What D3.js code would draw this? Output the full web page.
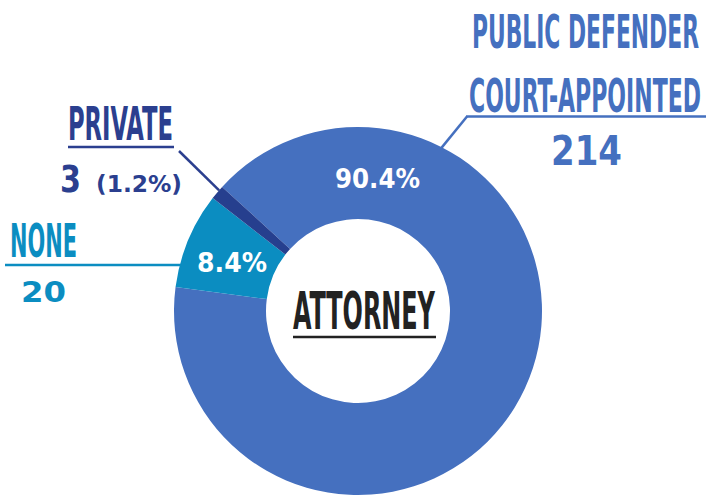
<!DOCTYPE html>
<html><head><meta charset="utf-8">
<script src="https://cdn.jsdelivr.net/npm/d3@7"></script>
<style>html,body{margin:0;padding:0;background:#fff;}svg{display:block;}</style>
</head><body>
<script>
const categories = ["PUBLIC DEFENDER COURT-APPOINTED", "NONE", "PRIVATE"];
const values = [214, 20, 3];
const pctLabels = ["90.4%", "8.4%", "1.2%"];
const colors = ["#4570bf", "#0b8dc1", "#263f8e"];
const title = "ATTORNEY";

const W = 707, H = 496;
const cx = 358, cy = 311, R = 184, r = 92;
const svg = d3.select("body").append("svg").attr("width", W).attr("height", H);
const g = svg.append("g").attr("transform", `translate(${cx},${cy})`);

const deg = Math.PI / 180;
const pie = d3.pie().sort(null).value(d => d).startAngle(-47.6 * deg).endAngle(-47.6 * deg + 2 * Math.PI);
const arcs = pie(values);
const arc = d3.arc().innerRadius(r).outerRadius(R);

g.selectAll("path.slice").data(arcs).enter().append("path")
  .attr("class", "slice").attr("d", arc).attr("fill", (d, i) => colors[i]);

const pt = (a, rad) => [cx + rad * Math.sin(a), cy - rad * Math.cos(a)];
const numFont = "'DejaVu Sans', sans-serif";
const condFont = "'Liberation Sans Narrow', 'DejaVu Sans Condensed', 'Liberation Sans', sans-serif";

// text fitted to a target width by horizontal scaling
function txt(s, x, y, size, len, fill, font, weight) {
  const t = svg.append("text").attr("x", 0).attr("y", 0).text(s)
    .attr("font-family", font).attr("font-weight", weight || "bold").attr("font-size", size)
    .attr("fill", fill);
  const nat = t.node().getComputedTextLength();
  const sx = nat > 0 ? len / nat : 1;
  t.attr("transform", `translate(${x},${y}) scale(${sx},1)`);
  return t;
}
function line(x1, y1, x2, y2, c, w) {
  svg.append("line").attr("x1", x1).attr("y1", y1).attr("x2", x2).attr("y2", y2)
    .attr("stroke", c).attr("stroke-width", w);
}

// in-slice percentage labels
txt(pctLabels[0], 335, 188, 27, 85, "#fff", numFont);
txt(pctLabels[1], 197, 272, 27, 70, "#fff", numFont);

// center title
txt(title, 293, 329, 52, 142, "#222", condFont);
line(293, 337, 436, 337, "#222", 2.5);

// PUBLIC DEFENDER label
const pubColor = "#4570bf";
txt("PUBLIC DEFENDER", 472, 48, 46, 227, pubColor, condFont);
txt("COURT-APPOINTED", 469, 112, 46, 232, pubColor, condFont);
line(466, 116.5, 706, 116.5, pubColor, 2.5);
const pEnd = pt(27 * deg, R - 2);
line(467, 116.5, pEnd[0], pEnd[1], pubColor, 2.5);
txt(String(values[0]), 551, 165, 41, 71, pubColor, numFont);

// PRIVATE label
const privColor = "#2b3f8f";
txt("PRIVATE", 68, 140, 46, 105, privColor, condFont);
line(68, 147, 174, 147, privColor, 2.5);
const prEnd = pt(311 * deg, R);
line(179, 151, prEnd[0], prEnd[1], privColor, 2.5);
txt(String(values[2]), 60, 192, 37, 21, privColor, numFont);
txt("(" + pctLabels[2] + ")", 96, 192, 23, 86, privColor, numFont);

// NONE label
const noneColor = "#0b8dc1";
txt("NONE", 10, 257, 47, 67, noneColor, condFont);
const nx = cx - Math.sqrt(R * R - (265 - cy) * (265 - cy));
line(5, 265, nx + 2, 265, noneColor, 2.5);
txt(String(values[1]), 21, 302, 29, 45, noneColor, numFont);
</script>
</body></html>
